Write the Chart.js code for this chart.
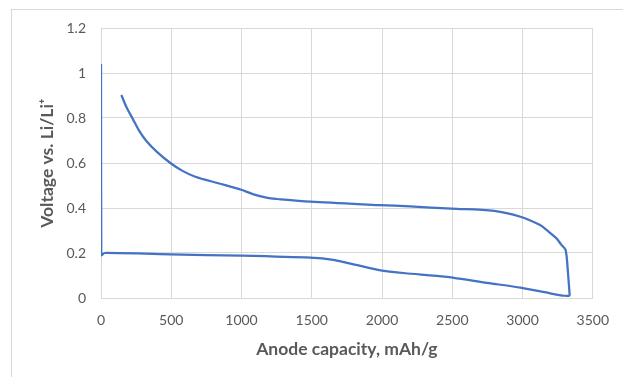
<!DOCTYPE html>
<html>
<head>
<meta charset="utf-8">
<script src="https://cdn.jsdelivr.net/npm/chart.js@4"></script>
<style>
  html, body { margin: 0; padding: 0; background: #fff; }
  #frame { position: absolute; left: 11px; top: 9px; width: 700px; height: 500px; border: 1px solid #d9d9d9; }
  #wrap { position: absolute; left: 0; top: 0; width: 623px; height: 377px; }
</style>
</head>
<body>
<div id="frame"></div>
<div id="wrap"><canvas id="myChart"></canvas></div>
<script>
// lithiation (discharge) curve
const dischargeCap = [0, 2, 25, 496, 998, 1489, 1653, 1816, 1980, 2167, 2447, 2775, 2985, 3196, 3300, 3336];
const dischargeV = [1.04, 0.19, 0.2, 0.194, 0.188, 0.179, 0.169, 0.147, 0.124, 0.11, 0.095, 0.065, 0.046, 0.021, 0.01, 0.01];

// delithiation (charge) curve
const chargeCap = [3336, 3325, 3307, 3277, 3242, 3180, 3125, 2985, 2798, 2494, 2200, 1980, 1489, 1255, 1185, 1080, 998, 835, 671, 580, 496, 400, 320, 270, 227, 180, 145];
const chargeV = [0.01, 0.1, 0.213, 0.236, 0.265, 0.298, 0.324, 0.361, 0.387, 0.397, 0.407, 0.413, 0.428, 0.44, 0.445, 0.462, 0.481, 0.51, 0.539, 0.565, 0.599, 0.648, 0.7, 0.745, 0.795, 0.85, 0.902];

const xTicks = [0, 500, 1000, 1500, 2000, 2500, 3000, 3500];
const yTicks = [0, 0.2, 0.4, 0.6, 0.8, 1, 1.2];

const toPts = (xs, ys) => xs.map((x, i) => ({ x: x, y: ys[i] }));

const datasets = [];
datasets.push({
 label: 'Discharge',
 data: toPts(dischargeCap, dischargeV),
 borderColor: '#4472C4',
 borderWidth: 2.25,
 pointRadius: 0,
 showLine: true,
 tension: 0.2,
});
datasets.push({
 label: 'Charge',
 data: toPts(chargeCap, chargeV),
 borderColor: '#4472C4',
 borderWidth: 2.25,
 pointRadius: 0,
 showLine: true,
 tension: 0.3,
});

const tickFont = { family: 'Lato', size: 14 };
const titleFont = { family: 'Lato', size: 17.5, weight: 'bold' };

const config = {
    type: 'scatter',
    data: { datasets },
    options: {
        responsive: false,
        animation: false,
        layout: { padding: { top: 28, right: 23, left: 0, bottom: 0 } },
        plugins: { legend: { display: false }, tooltip: { enabled: false } },
        scales: {
            x: {
                type: 'linear',
                min: 0,
                max: 3500,
                afterBuildTicks: s => { s.ticks = xTicks.map(v => ({ value: v })); },
                afterFit: s => { s.height = 79; },
                grid: { color: '#d9d9d9', drawTicks: false },
                border: { color: '#d9d9d9' },
                ticks: { color: '#595959', font: tickFont, padding: 14, callback: v => String(v) },
                title: { display: true, text: 'Anode capacity, mAh/g', color: '#595959', font: titleFont, padding: { top: 0, bottom: 17 } },
            },
            y: {
                type: 'linear',
                min: 0,
                max: 1.2,
                afterBuildTicks: s => { s.ticks = yTicks.map(v => ({ value: v })); },
                afterFit: s => { s.width = 101; },
                grid: { color: '#d9d9d9', drawTicks: false },
                border: { color: '#d9d9d9' },
                ticks: { color: '#595959', font: tickFont, padding: 15, callback: v => String(Math.round(v * 10) / 10) },
                title: { display: true, text: 'Voltage vs. Li/Li⁺', color: '#595959', font: titleFont, padding: { top: 37, bottom: 0 } },
            },
        },
    },
};

const canvas = document.getElementById('myChart');
canvas.width = 623;
canvas.height = 377;
const ctx = canvas.getContext('2d');
const myChart = new Chart(ctx, config);
</script>
</body>
</html>
